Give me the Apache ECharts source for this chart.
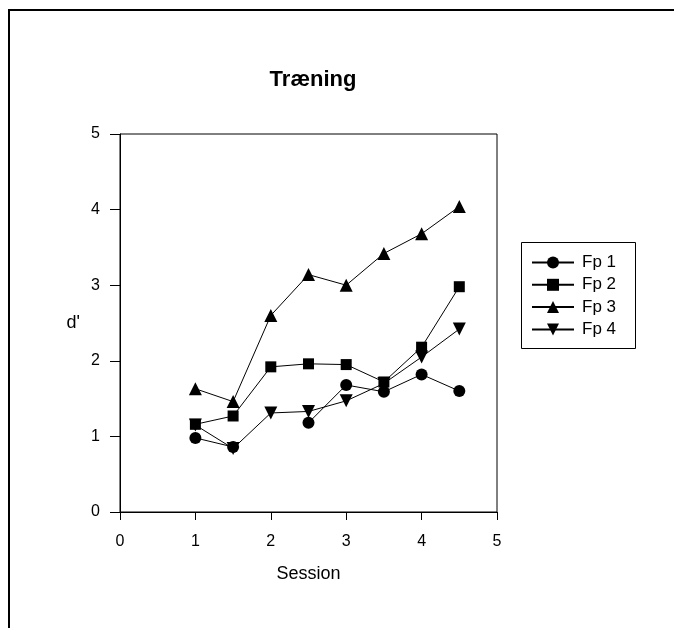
<!DOCTYPE html>
<html>
<head>
<meta charset="utf-8">
<script src="https://cdn.jsdelivr.net/npm/echarts@6/dist/echarts.min.js"></script>
<style>
html,body{margin:0;padding:0;background:#fff;}
#c{width:674px;height:628px;}
</style>
</head>
<body>
<div id="c"></div>
<script>
var titleText = 'Træning';
var xName = 'Session';
var yName = "d'";
var sessions = [1, 1.5, 2, 2.5, 3, 3.5, 4, 4.5];
var fp1 = [0.98, 0.86, null, 1.18, 1.68, 1.59, 1.82, 1.60];
var fp2 = [1.16, 1.27, 1.92, 1.96, 1.95, 1.72, 2.18, 2.98];
var fp3 = [1.63, 1.46, 2.60, 3.14, 3.00, 3.42, 3.68, 4.04];
var fp4 = [1.15, 0.84, 1.31, 1.33, 1.47, 1.70, 2.05, 2.42];
var seriesNames = ['Fp 1', 'Fp 2', 'Fp 3', 'Fp 4'];
var xTicks = [0, 1, 2, 3, 4, 5];
var yTicks = [0, 1, 2, 3, 4, 5];

var font = 'Liberation Sans, Arial, sans-serif';
function pairs(vals) {
  return sessions.map(function (s, i) { return [s, vals[i]]; });
}
function mk(name, vals, symbol, rot, size) {
  return {
    name: name,
    type: 'line',
    data: pairs(vals),
    symbol: symbol,
    symbolSize: size,
    symbolRotate: rot,
    showAllSymbol: true,
    connectNulls: false,
    lineStyle: { color: '#000', width: 1 },
    itemStyle: { color: '#000', borderWidth: 0 },
    emphasis: { disabled: true },
    animation: false
  };
}
var chart = echarts.init(document.getElementById('c'), null, { renderer: 'canvas' });
chart.setOption({
  backgroundColor: '#fff',
  animation: false,
  title: {
    text: titleText,
    left: 308,
    top: 64,
    textAlign: 'center',
    textStyle: { fontFamily: font, fontWeight: 'bold', fontSize: 22, color: '#000' }
  },
  graphic: [
    { type: 'rect', shape: { x: 9, y: 10, width: 800, height: 800 }, style: { fill: null, stroke: '#000', lineWidth: 2 }, silent: true },
    { type: 'rect', shape: { x: 521.5, y: 242.5, width: 114, height: 106 }, style: { fill: null, stroke: '#000', lineWidth: 1 }, silent: true }
  ],
  legend: {
    orient: 'vertical',
    left: 531,
    top: 254,
    padding: 0,
    itemWidth: 42,
    itemHeight: 15,
    itemGap: 5.3,
    data: seriesNames,
    textStyle: { fontFamily: font, fontSize: 17, color: '#000', padding: [0, 0, 0, 3] },
    selectedMode: false
  },
  grid: {
    left: 120, top: 134, width: 377, height: 378,
    show: true, borderColor: '#000', borderWidth: 1, backgroundColor: 'transparent'
  },
  xAxis: {
    type: 'value', min: 0, max: 5, interval: 1,
    name: xName, nameLocation: 'middle', nameGap: 53,
    nameTextStyle: { fontFamily: font, fontSize: 18, color: '#000' },
    axisLine: { show: true, onZero: false, lineStyle: { color: '#000', width: 1 } },
    axisTick: { show: true, inside: false, length: 8, lineStyle: { color: '#000' } },
    axisLabel: { fontFamily: font, fontSize: 16, color: '#000', margin: 22,
      formatter: function (v) { return xTicks.indexOf(v) >= 0 ? String(v) : ''; } },
    splitLine: { show: false }
  },
  yAxis: {
    type: 'value', min: 0, max: 5, interval: 1,
    name: yName, nameLocation: 'middle', nameGap: 40, nameRotate: 0,
    nameTextStyle: { fontFamily: font, fontSize: 18, color: '#000' },
    axisLine: { show: true, onZero: false, lineStyle: { color: '#000', width: 1 } },
    axisTick: { show: true, inside: false, length: 10, lineStyle: { color: '#000' } },
    axisLabel: { fontFamily: font, fontSize: 16, color: '#000', margin: 20,
      formatter: function (v) { return yTicks.indexOf(v) >= 0 ? String(v) : ''; } },
    splitLine: { show: false }
  },
  series: [
    mk(seriesNames[0], fp1, 'circle', 0, 12),
    mk(seriesNames[1], fp2, 'rect', 0, 11),
    mk(seriesNames[2], fp3, 'triangle', 0, 13),
    mk(seriesNames[3], fp4, 'triangle', 180, 13)
  ]
});
</script>
</body>
</html>
